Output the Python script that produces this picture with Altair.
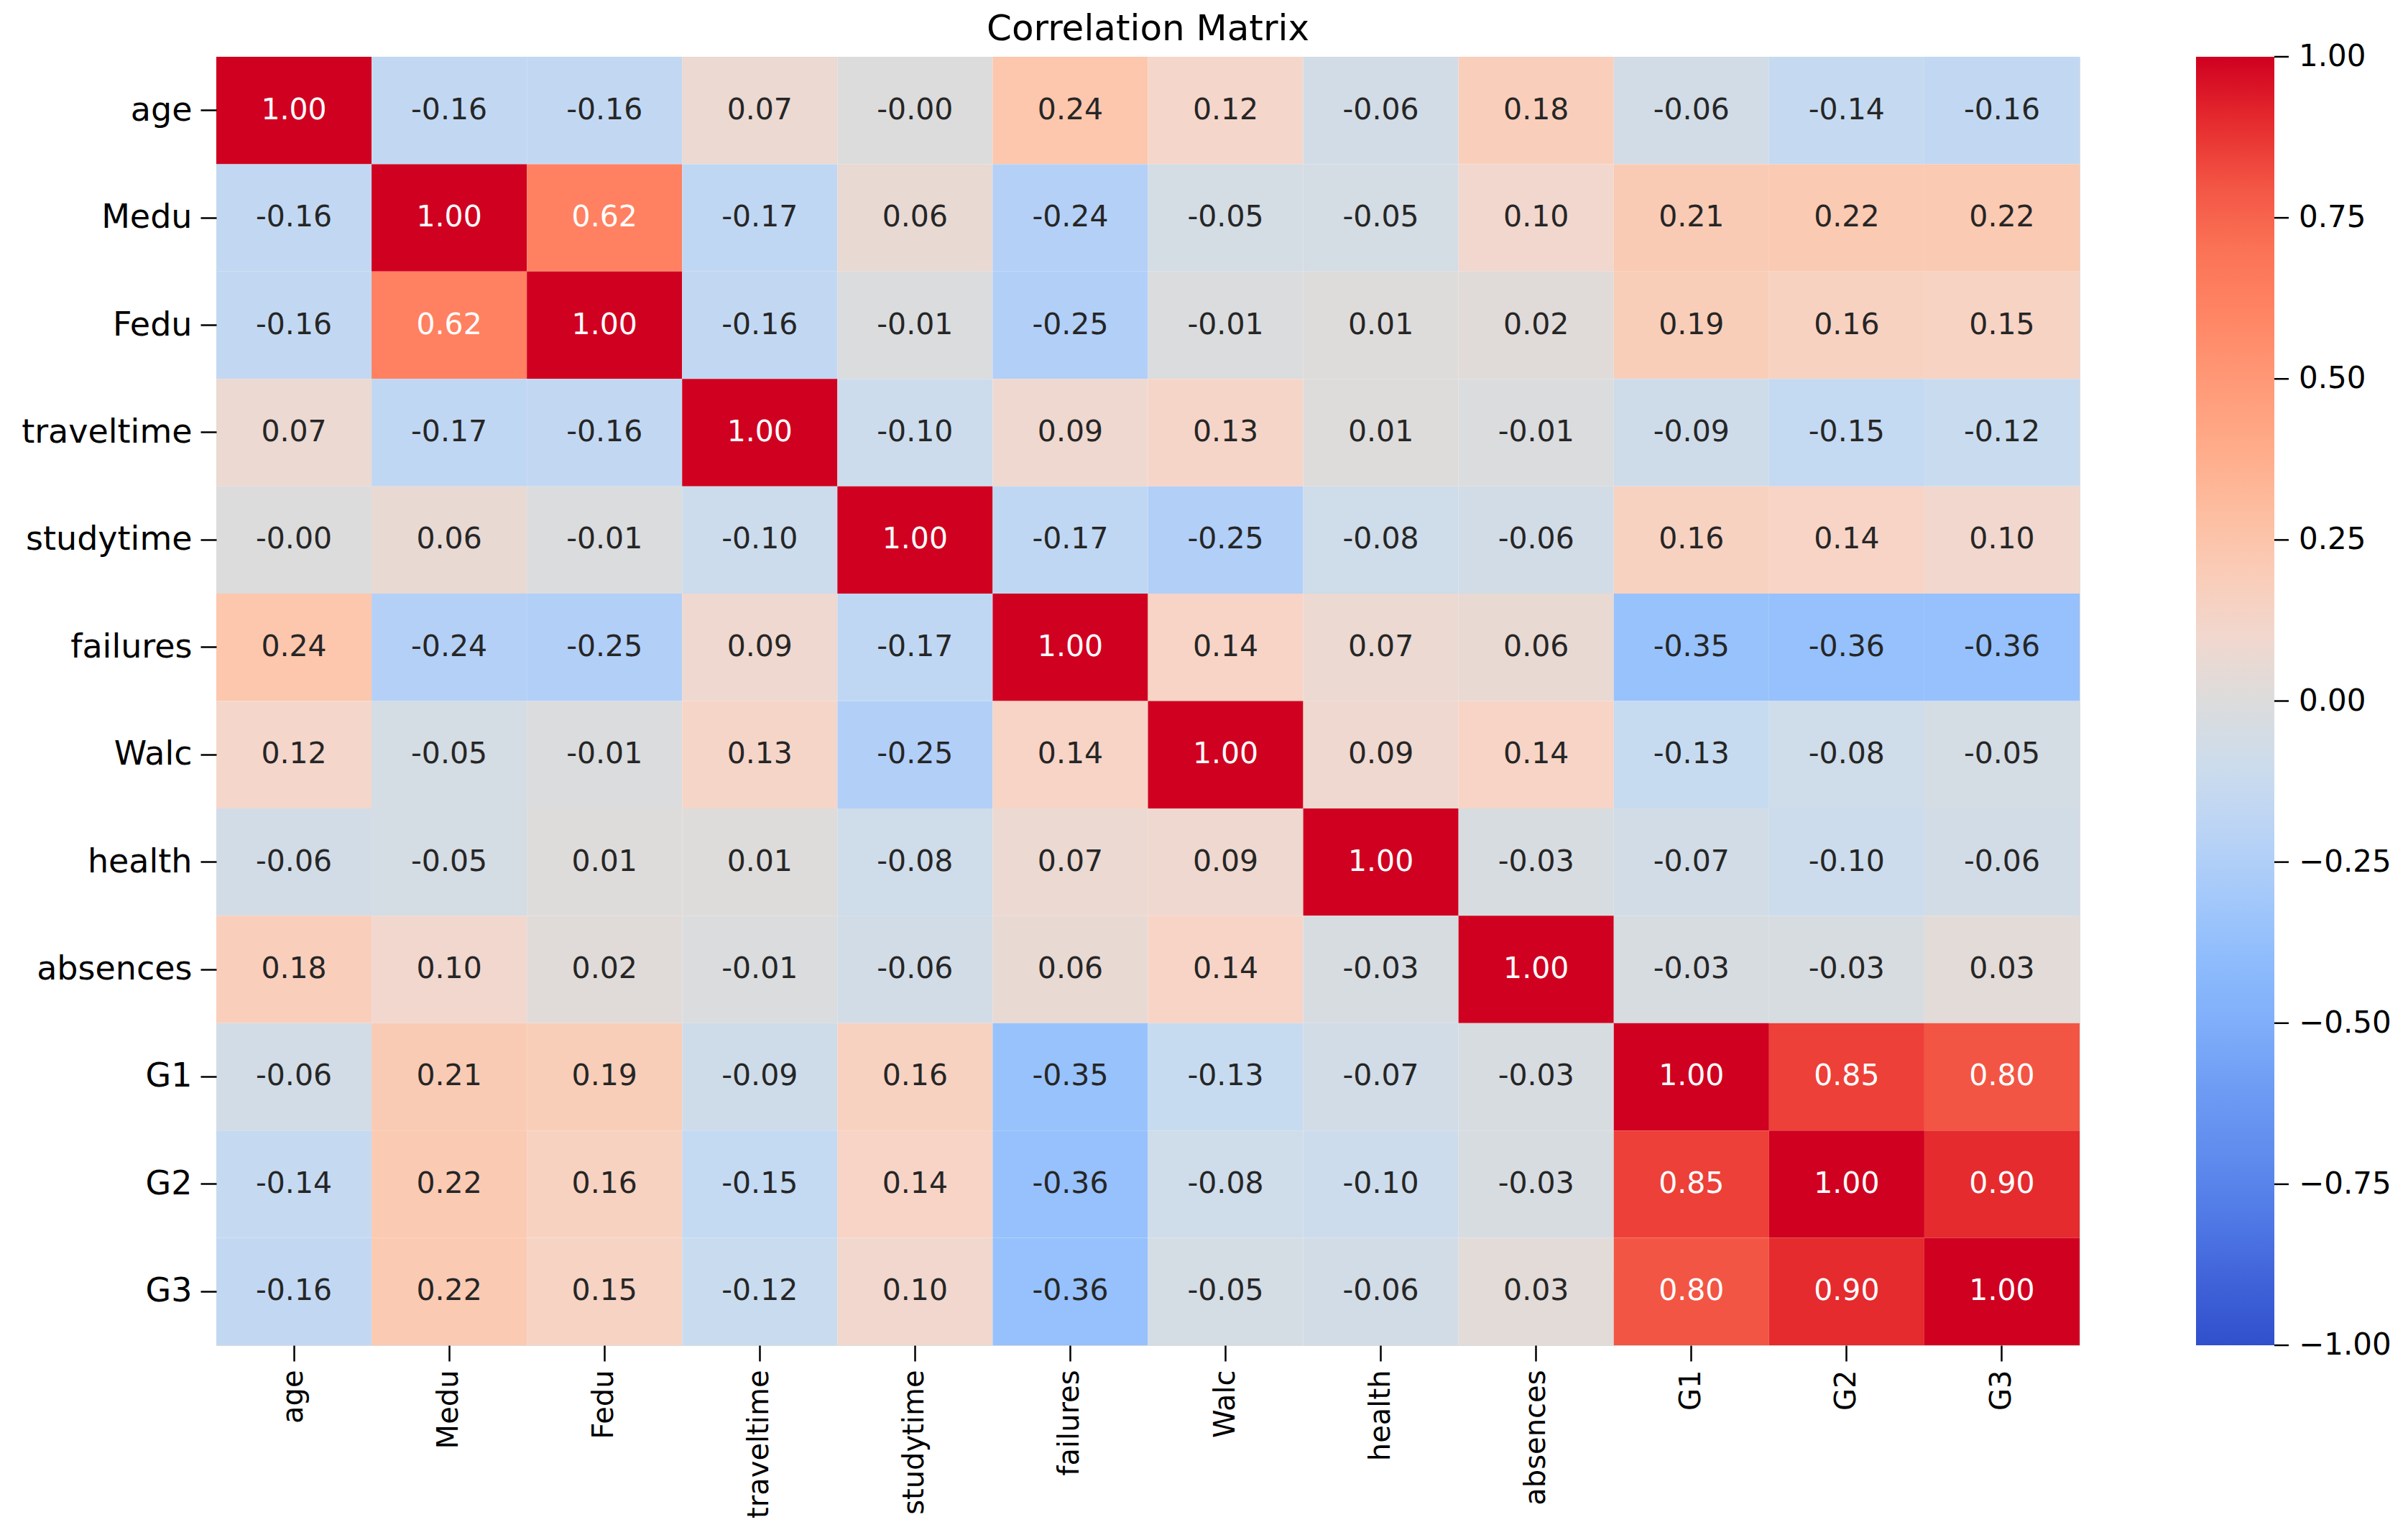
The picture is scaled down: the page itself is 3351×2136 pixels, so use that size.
import altair as alt
import pandas as pd

variables = ["age", "Medu", "Fedu", "traveltime", "studytime", "failures",
             "Walc", "health", "absences", "G1", "G2", "G3"]

row_age        = [1.00, -0.16, -0.16, 0.07, -0.003, 0.24, 0.12, -0.06, 0.18, -0.06, -0.14, -0.16]
row_medu       = [-0.16, 1.00, 0.62, -0.17, 0.06, -0.24, -0.05, -0.05, 0.10, 0.21, 0.22, 0.22]
row_fedu       = [-0.16, 0.62, 1.00, -0.16, -0.01, -0.25, -0.01, 0.01, 0.02, 0.19, 0.16, 0.15]
row_traveltime = [0.07, -0.17, -0.16, 1.00, -0.10, 0.09, 0.13, 0.01, -0.01, -0.09, -0.15, -0.12]
row_studytime  = [-0.003, 0.06, -0.01, -0.10, 1.00, -0.17, -0.25, -0.08, -0.06, 0.16, 0.14, 0.10]
row_failures   = [0.24, -0.24, -0.25, 0.09, -0.17, 1.00, 0.14, 0.07, 0.06, -0.35, -0.36, -0.36]
row_walc       = [0.12, -0.05, -0.01, 0.13, -0.25, 0.14, 1.00, 0.09, 0.14, -0.13, -0.08, -0.05]
row_health     = [-0.06, -0.05, 0.01, 0.01, -0.08, 0.07, 0.09, 1.00, -0.03, -0.07, -0.10, -0.06]
row_absences   = [0.18, 0.10, 0.02, -0.01, -0.06, 0.06, 0.14, -0.03, 1.00, -0.03, -0.03, 0.03]
row_g1         = [-0.06, 0.21, 0.19, -0.09, 0.16, -0.35, -0.13, -0.07, -0.03, 1.00, 0.85, 0.80]
row_g2         = [-0.14, 0.22, 0.16, -0.15, 0.14, -0.36, -0.08, -0.10, -0.03, 0.85, 1.00, 0.90]
row_g3         = [-0.16, 0.22, 0.15, -0.12, 0.10, -0.36, -0.05, -0.06, 0.03, 0.80, 0.90, 1.00]

rows = [row_age, row_medu, row_fedu, row_traveltime, row_studytime, row_failures,
        row_walc, row_health, row_absences, row_g1, row_g2, row_g3]

color_stops = [-1.0, -0.875, -0.75, -0.625, -0.5, -0.375, -0.25, -0.125, 0.0,
               0.125, 0.25, 0.375, 0.5, 0.625, 0.75, 0.875, 1.0]
color_range = ["#3050cc", "#4468dc", "#5a86ec", "#6a98f2", "#80aefa", "#92bffc",
               "#b2cff8", "#c8dcf0", "#dcdcdc", "#f6d6ca", "#fcc6aa", "#ffae8c",
               "#ff9876", "#ff8060", "#f96a50", "#ea3632", "#d00020"]
colorbar_ticks = [-1.0, -0.75, -0.5, -0.25, 0.0, 0.25, 0.5, 0.75, 1.0]
legend_label_values = [-0.9995, -0.75, -0.5, -0.25, 0.0, 0.25, 0.5, 0.75, 0.9995]

records = []
for rname, vals in zip(variables, rows):
    for cname, v in zip(variables, vals):
        records.append({"row": rname, "col": cname, "value": v, "label": f"{v:.2f}"})
df = pd.DataFrame(records)
ticks_df = pd.DataFrame({"t": colorbar_ticks})

FONT = "DejaVu Sans"

axis_common = dict(
    labelFont=FONT,
    labelColor="black",
    labelPadding=12,
    labelLimit=0,
    ticks=True,
    tickSize=22,
    tickWidth=2.5,
    tickColor="black",
    domain=False,
    grid=False,
)

x_enc = alt.X("col:N", sort=variables, title=None,
              axis=alt.Axis(labelAngle=270, labelFontSize=40, **axis_common))
y_enc = alt.Y("row:N", sort=variables, title=None,
              axis=alt.Axis(labelFontSize=46, **axis_common))

base = alt.Chart(df)

rect = base.mark_rect().encode(
    x=x_enc,
    y=y_enc,
    color=alt.Color(
        "value:Q",
        scale=alt.Scale(domain=color_stops, range=color_range, interpolate="rgb"),
        legend=alt.Legend(
            title=None,
            orient="none",
            legendX=2755,
            legendY=0,
            direction="vertical",
            gradientLength=1793,
            gradientThickness=109,
            gradientStrokeWidth=0,
            values=legend_label_values,
            format=".2f",
            labelFont=FONT,
            labelFontSize=42,
            labelColor="black",
            labelOverlap=False,
            labelOffset=34,
            labelBaseline="middle",
        ),
    ),
)

text = base.mark_text(font=FONT, fontSize=41).encode(
    x=x_enc,
    y=y_enc,
    text="label:N",
    color=alt.condition(alt.datum.value > 0.5, alt.value("white"), alt.value("#262626")),
)

heatmap = alt.layer(rect, text)

cbar_ticks = alt.Chart(ticks_df).mark_rule(color="black", strokeWidth=2.5).encode(
    y=alt.Y("t:Q", scale=alt.Scale(domain=[-1, 1], nice=False, zero=False), axis=None),
    x=alt.value(2864),
    x2=alt.value(2884),
)

chart = (
    alt.layer(heatmap, cbar_ticks)
    .resolve_scale(y="independent")
    .properties(
        width=2593,
        height=1793,
        autosize=alt.AutoSizeParams(type="none"),
        padding={"left": 293, "top": 71, "right": 440, "bottom": 262},
        title=alt.Title("Correlation Matrix", font=FONT, fontSize=50,
                        fontWeight="normal", color="black", offset=12),
    )
    .configure_view(stroke=None)
    .configure_axis(labelFont=FONT)
    .configure(background="white", font=FONT)
)

chart.save("out.html", embed_options={"renderer": "svg", "actions": False})
